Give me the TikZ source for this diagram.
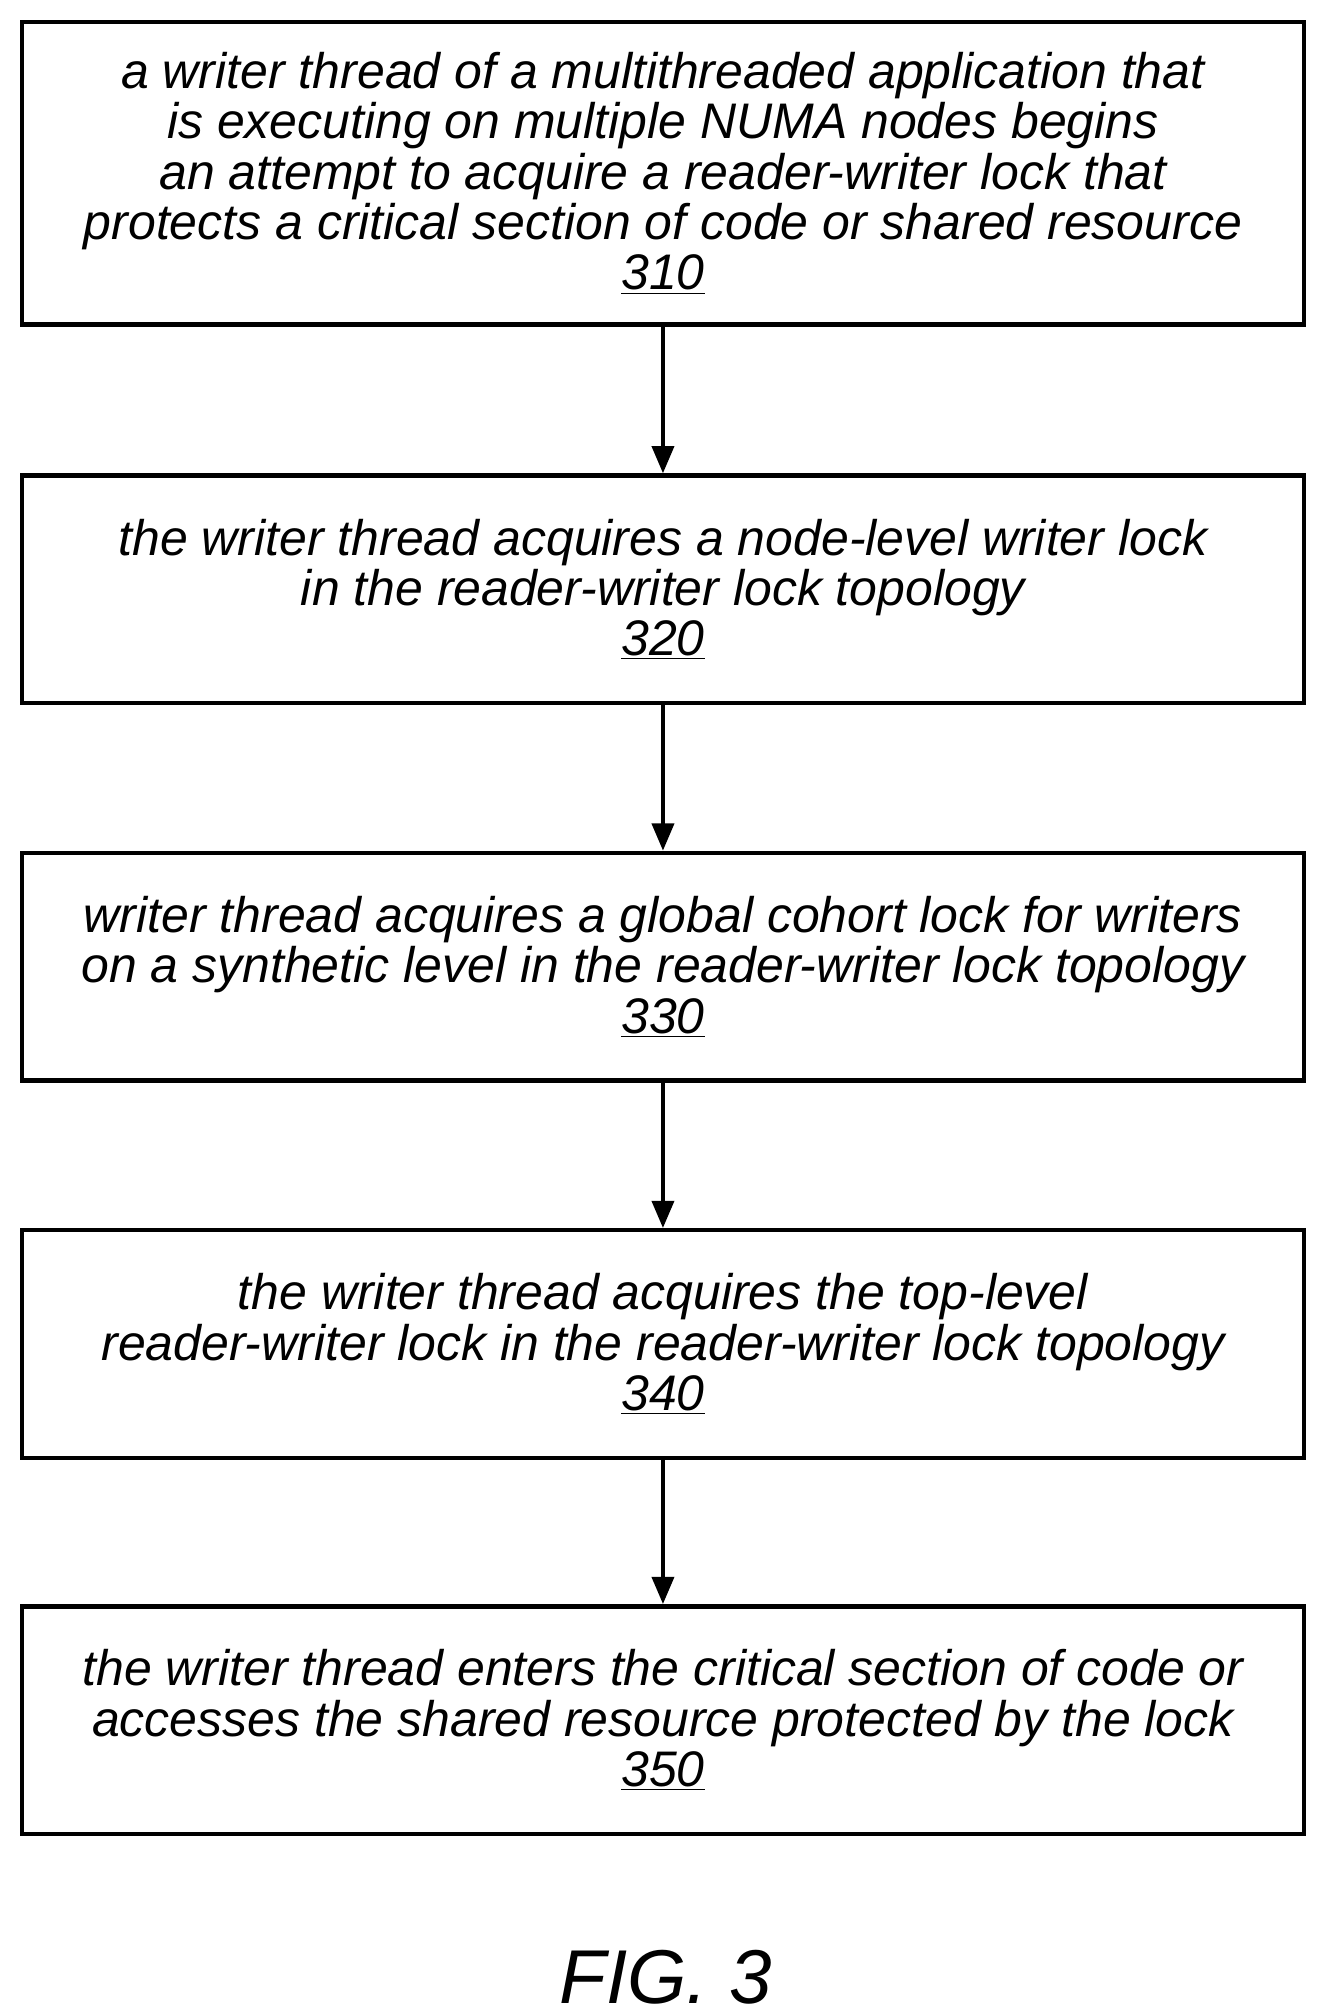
\documentclass[tikz,border=0pt]{standalone}
\usepackage{fontspec}
\setmainfont{Liberation Sans}
\usetikzlibrary{arrows.meta}
\begin{document}
\begin{tikzpicture}[x=0.025cm,y=-0.025cm,
  stepbox/.style={draw,line width=2.4pt,minimum width=24.8cm,inner sep=0pt,align=center,font=\fontsize{27.5}{27.7}\selectfont\itshape},
  arr/.style={-{Triangle[length=15pt,width=12pt]},line width=2.4pt}]
\useasboundingbox (0,0) rectangle (1024,1560);
\node[stepbox,minimum height=5.85cm] (b1) at (513,134) {a writer thread of a multithreaded application that\\is executing on multiple NUMA nodes begins\\an attempt to acquire a reader-writer lock that\\protects a critical section of code or shared resource\\\underline{310}};
\node[stepbox,minimum height=4.4cm] (b2) at (513,456) {the writer thread acquires a node-level writer lock\\in the reader-writer lock topology\\\underline{320}};
\node[stepbox,minimum height=4.4cm] (b3) at (513,748) {writer thread acquires a global cohort lock for writers\\on a synthetic level in the reader-writer lock topology\\\underline{330}};
\node[stepbox,minimum height=4.4cm] (b4) at (513,1040) {the writer thread acquires the top-level\\reader-writer lock in the reader-writer lock topology\\\underline{340}};
\node[stepbox,minimum height=4.4cm] (b5) at (513,1331) {the writer thread enters the critical section of code or\\accesses the shared resource protected by the lock\\\underline{350}};
\node[font=\fontsize{42}{44}\selectfont\itshape] (fig) at (515,1530) {FIG. 3};
\draw[arr] (b1) -- (b2);
\draw[arr] (b2) -- (b3);
\draw[arr] (b3) -- (b4);
\draw[arr] (b4) -- (b5);
\end{tikzpicture}
\end{document}
